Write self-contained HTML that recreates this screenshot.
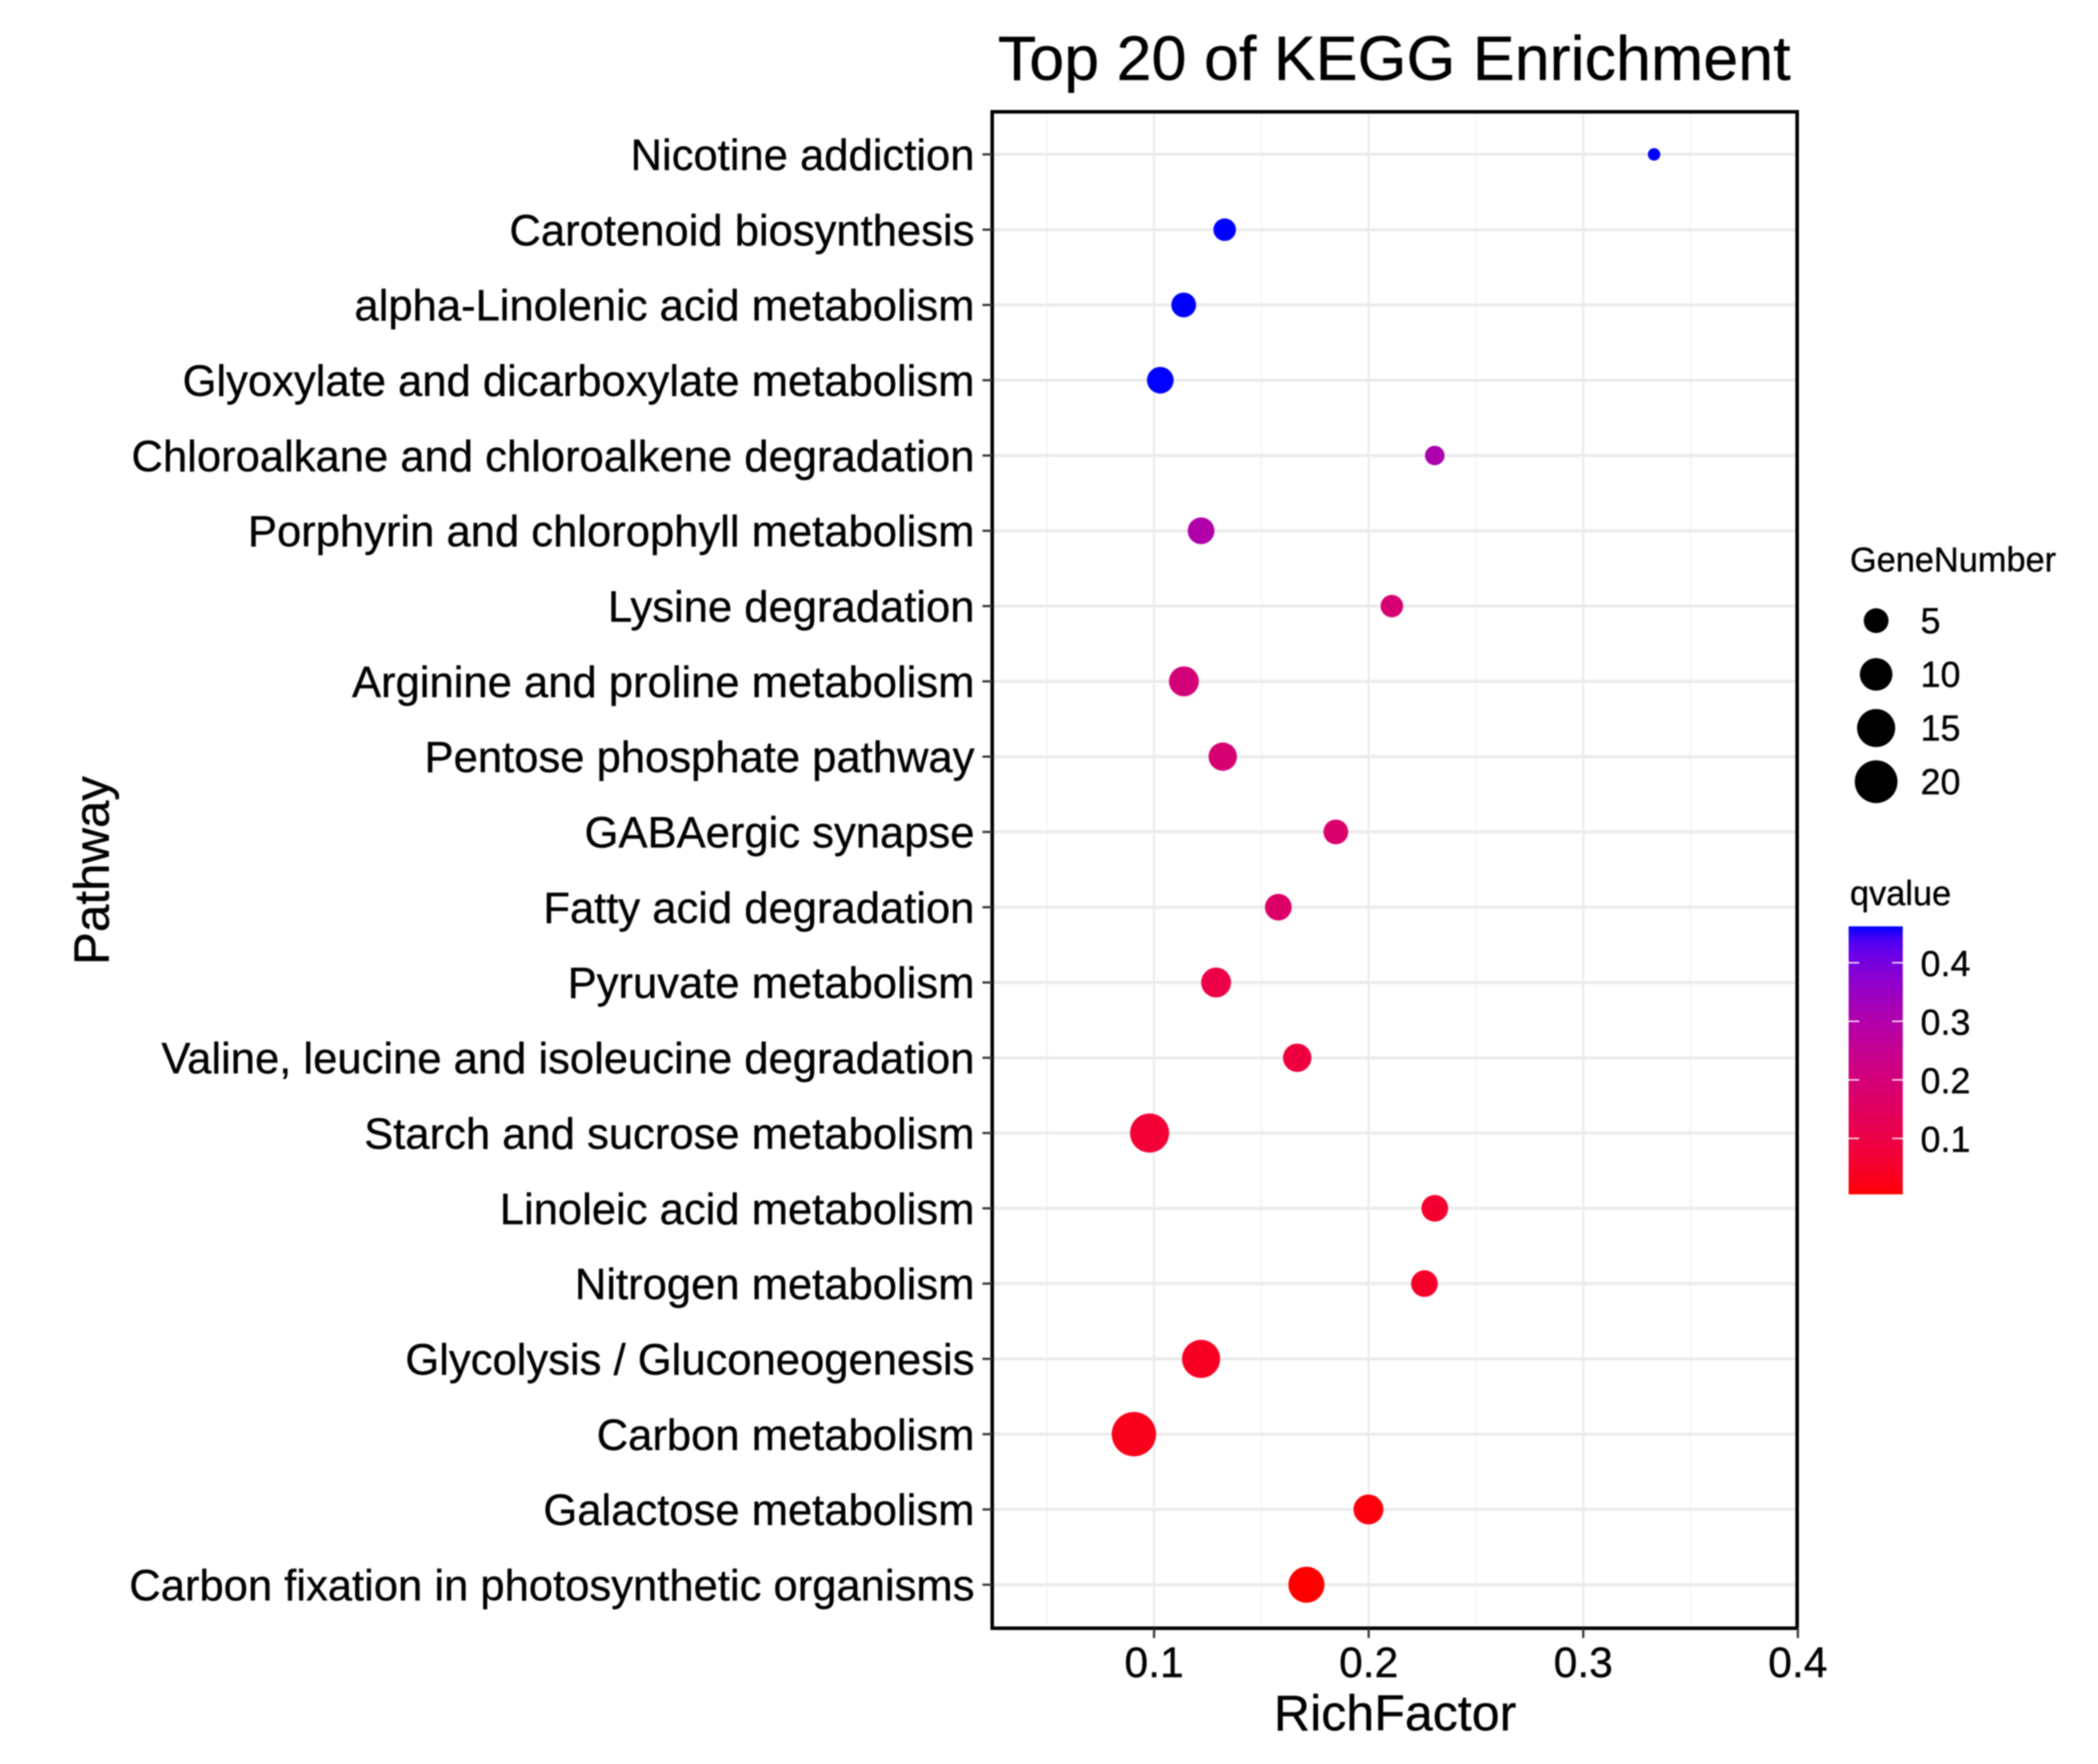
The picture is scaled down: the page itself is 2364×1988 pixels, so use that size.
<!DOCTYPE html>
<html lang="en">
<head>
<meta charset="utf-8">
<title>Top 20 of KEGG Enrichment</title>
<style>
html,body{margin:0;padding:0;background:#fff;width:2364px;height:1988px;overflow:hidden}
svg{display:block;filter:blur(0.8px)}
text{font-family:"Liberation Sans",Arial,sans-serif;fill:#000;stroke:#000;stroke-width:0.4px}
</style>
</head>
<body>
<svg id="chart" xmlns="http://www.w3.org/2000/svg" width="2364" height="1988" viewBox="0 0 2364 1988">
  <rect width="2364" height="1988" fill="#fff"/>
  <defs><linearGradient id="qGradient" x1="0" y1="1" x2="0" y2="0"></linearGradient></defs>
  <g id="grid"></g>
  <g id="points"></g>
  <rect x="1118" y="126" width="907" height="1709" fill="none" stroke="#000" stroke-width="4"/>
  <g id="yAxis"></g>
  <g id="xAxis"></g>
  <text x="1571" y="90" font-size="70.8" text-anchor="middle">Top 20 of KEGG Enrichment</text>
  <text x="1572" y="1950" font-size="56.5" text-anchor="middle">RichFactor</text>
  <text transform="translate(122.7,981) rotate(-90)" font-size="55.5" text-anchor="middle">Pathway</text>
  <g id="sizeLegend">
    <text x="2084.5" y="644" font-size="38.7">GeneNumber</text>
  </g>
  <g id="colorLegend">
    <text x="2084.5" y="1020" font-size="38.7">qvalue</text>
    <rect x="2083" y="1044" width="61" height="302" fill="url(#qGradient)"/>
  </g>
</svg>
<script>
const categories = ["Nicotine addiction","Carotenoid biosynthesis","alpha-Linolenic acid metabolism","Glyoxylate and dicarboxylate metabolism","Chloroalkane and chloroalkene degradation","Porphyrin and chlorophyll metabolism","Lysine degradation","Arginine and proline metabolism","Pentose phosphate pathway","GABAergic synapse","Fatty acid degradation","Pyruvate metabolism","Valine, leucine and isoleucine degradation","Starch and sucrose metabolism","Linoleic acid metabolism","Nitrogen metabolism","Glycolysis / Gluconeogenesis","Carbon metabolism","Galactose metabolism","Carbon fixation in photosynthetic organisms"];
const richFactor = [0.333,0.1329,0.1138,0.1029,0.2308,0.1219,0.2108,0.1139,0.132,0.1847,0.1579,0.1289,0.1667,0.0979,0.2308,0.226,0.1219,0.0906,0.1999,0.171];
const geneNumber = [2,4,5,6,3,6,4,8,7,5,6,8,7,16,6,6,15,22,8,13];
const qValue = [0.463,0.463,0.463,0.463,0.31,0.3,0.19,0.2,0.19,0.175,0.165,0.1,0.09,0.07,0.06,0.05,0.04,0.03,0.015,0.005];
const xTicks = [0.1,0.2,0.3,0.4];
const xMinorTicks = [0.05,0.15,0.25,0.35];
const sizeBreaks = [5,10,15,20];
const qBreaks = [0.1,0.2,0.3,0.4];

const SVGNS = 'http://www.w3.org/2000/svg';
const xScale = v => 1300.4 + (v - 0.1) * 2418;
const yScale = i => 174 + i * 84.84;
const radius = g => 7 + 18 * Math.sqrt((g - 2) / 20);
const qMin = 0.0045, qMax = 0.463;
const qY = q => 1283 - (q - 0.1) * 660;

function add(parent, tag, attrs, txt) {
  const n = document.createElementNS(SVGNS, tag);
  for (const k in attrs) n.setAttribute(k, attrs[k]);
  if (txt !== undefined) n.textContent = txt;
  parent.appendChild(n);
  return n;
}
function srgb2lab(c) {
  const f = c.map(v => { v /= 255; return v > 0.04045 ? Math.pow((v + 0.055) / 1.055, 2.4) : v / 12.92; });
  const X = (0.4124 * f[0] + 0.3576 * f[1] + 0.1805 * f[2]) / 0.95047;
  const Y = 0.2126 * f[0] + 0.7152 * f[1] + 0.0722 * f[2];
  const Z = (0.0193 * f[0] + 0.1192 * f[1] + 0.9505 * f[2]) / 1.08883;
  const g = t => t > 0.008856 ? Math.cbrt(t) : 7.787 * t + 16 / 116;
  return [116 * g(Y) - 16, 500 * (g(X) - g(Y)), 200 * (g(Y) - g(Z))];
}
function lab2css(l) {
  const fy = (l[0] + 16) / 116, fx = fy + l[1] / 500, fz = fy - l[2] / 200;
  const h = t => t * t * t > 0.008856 ? t * t * t : (t - 16 / 116) / 7.787;
  const X = h(fx) * 0.95047, Y = h(fy), Z = h(fz) * 1.08883;
  const rgb = [3.2406 * X - 1.5372 * Y - 0.4986 * Z, -0.9689 * X + 1.8758 * Y + 0.0415 * Z, 0.0557 * X - 0.204 * Y + 1.057 * Z];
  const o = rgb.map(v => { v = Math.max(0, Math.min(1, v)); v = v > 0.0031308 ? 1.055 * Math.pow(v, 1 / 2.4) - 0.055 : 12.92 * v; return Math.round(v * 255); });
  return 'rgb(' + o.join(',') + ')';
}
const labLow = srgb2lab([255, 0, 0]), labHigh = srgb2lab([0, 0, 255]);
function qColor(q) {
  const t = Math.max(0, Math.min(1, (q - qMin) / (qMax - qMin)));
  return lab2css(labLow.map((v, i) => v + (labHigh[i] - v) * t));
}

const gridG = document.getElementById('grid');
const pointsG = document.getElementById('points');
const yAxisG = document.getElementById('yAxis');
const xAxisG = document.getElementById('xAxis');
const sizeG = document.getElementById('sizeLegend');
const colorG = document.getElementById('colorLegend');
const gradient = document.getElementById('qGradient');

xMinorTicks.forEach(v => {
  const el = add(gridG, 'line', {x1: xScale(v), x2: xScale(v), y1: 126, y2: 1835, stroke: '#f3f3f3', 'stroke-width': 1.5});
  
  
});
xTicks.forEach(v => {
  const el = add(gridG, 'line', {x1: xScale(v), x2: xScale(v), y1: 126, y2: 1835, stroke: '#ebebeb', 'stroke-width': 2.4});
  
  
});
categories.forEach((c, i) => {
  const el = add(gridG, 'line', {x1: 1118, x2: 2025, y1: yScale(i), y2: yScale(i), stroke: '#ebebeb', 'stroke-width': 3.5});
  
  
});

categories.forEach((c, i) => {
  const tick = add(yAxisG, 'line', {x1: 1107, x2: 1118, y1: yScale(i), y2: yScale(i), stroke: '#333', 'stroke-width': 2.5});
  
  
  const label = add(yAxisG, 'text', {x: 1098, y: yScale(i) + 17.5, 'font-size': 49.1, 'text-anchor': 'end'}, c);
  
  
});

xTicks.forEach(v => {
  const tick = add(xAxisG, 'line', {x1: xScale(v), x2: xScale(v), y1: 1835, y2: 1846, stroke: '#333', 'stroke-width': 2.5});
  
  
  const label = add(xAxisG, 'text', {x: xScale(v), y: 1890, 'font-size': 48, 'text-anchor': 'middle'}, v.toFixed(1));
  
  
});

categories.forEach((c, i) => {
  const dot = add(pointsG, 'circle', {cx: xScale(richFactor[i]), cy: yScale(i), r: radius(geneNumber[i]), fill: qColor(qValue[i])});
  
  
});

sizeBreaks.forEach((g, i) => {
  const cy = 699.5 + i * 60.5;
  const dot = add(sizeG, 'circle', {cx: 2114, cy: cy, r: radius(g), fill: '#000'});
  
  
  const label = add(sizeG, 'text', {x: 2164, y: cy + 14, 'font-size': 40.5}, String(g));
  
  
});

for (let i = 0; i <= 20; i++) {
  const t = i / 20;
  add(gradient, 'stop', {offset: t, 'stop-color': qColor(qMin + t * (qMax - qMin))});
}
qBreaks.forEach(q => {
  const left = add(colorG, 'line', {x1: 2083, x2: 2095, y1: qY(q), y2: qY(q), stroke: '#fff', 'stroke-width': 1.5});
  
  
  const right = add(colorG, 'line', {x1: 2132, x2: 2144, y1: qY(q), y2: qY(q), stroke: '#fff', 'stroke-width': 1.5});
  
  
  const label = add(colorG, 'text', {x: 2164, y: qY(q) + 15, 'font-size': 40.5}, q.toFixed(1));
  
  
});
</script>
</body>
</html>
